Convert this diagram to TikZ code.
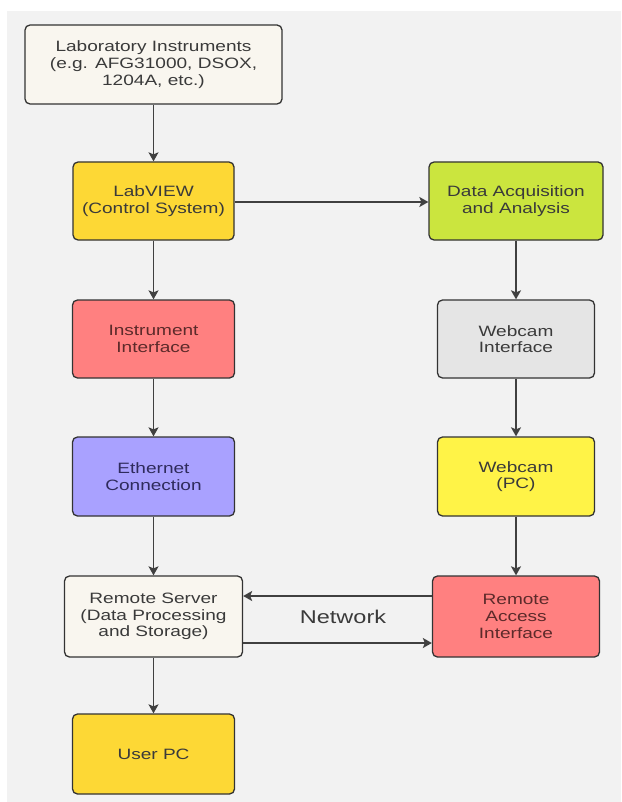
\documentclass[tikz,border=0pt]{standalone}
\usepackage{fontspec}
\setmainfont{Liberation Sans}
\newfontfamily\boxfont[FakeStretch=1.27]{Liberation Sans}
\usetikzlibrary{arrows.meta}
\definecolor{bgc}{HTML}{F2F2F2}
\definecolor{edge}{HTML}{333333}
\definecolor{linec}{HTML}{404040}
\definecolor{txt}{HTML}{3A3A3A}
\definecolor{redtxt}{HTML}{5C2A2A}
\definecolor{bluetxt}{HTML}{2F2B5C}
\definecolor{cream}{HTML}{F9F6EF}
\definecolor{gold}{HTML}{FDD835}
\definecolor{lime}{HTML}{CBE53E}
\definecolor{salmon}{HTML}{FF8080}
\definecolor{lgray}{HTML}{E5E5E5}
\definecolor{lav}{HTML}{A9A1FF}
\definecolor{yel}{HTML}{FFF347}
\tikzset{
  box/.style={draw=edge, line width=1.3pt, rounded corners=5pt, align=center,
    font=\boxfont\fontsize{15}{16.7}\selectfont, text=txt, inner sep=0pt},
  conn/.style={draw=linec, line width=1.6pt, -{Stealth[length=9pt,width=10pt,inset=2pt]}}
}
\begin{document}
\begin{tikzpicture}[x=1pt,y=-1pt]
\useasboundingbox (0,0) rectangle (621,802);
\fill[white] (0,0) rectangle (621,802);
\fill[bgc] (7,11) rectangle (621,802);

\node[box, fill=cream, minimum width=257, minimum height=79] (lab) at (153.5,64.5)
  {Laboratory Instruments\\(e.g. AFG31000, DSOX,\\1204A, etc.)};
\node[box, fill=gold, minimum width=161, minimum height=78] (lv) at (153.5,201)
  {LabVIEW\\(Control System)};
\node[box, fill=lime, minimum width=174, minimum height=78] (daq) at (516,201)
  {Data Acquisition\\and Analysis};
\node[box, fill=salmon, text=redtxt, minimum width=162, minimum height=78] (ii) at (153.5,339)
  {Instrument\\Interface};
\node[box, fill=lgray, minimum width=157, minimum height=78] (wi) at (516,339)
  {Webcam\\Interface};
\node[box, fill=lav, text=bluetxt, minimum width=162, minimum height=79] (eth) at (153.5,476.5)
  {Ethernet\\Connection};
\node[box, fill=yel, minimum width=157, minimum height=79] (wpc) at (516,476.5)
  {Webcam\\(PC)};
\node[box, fill=cream, minimum width=178, minimum height=81] (rs) at (153.5,616.5)
  {Remote Server\\(Data Processing\\and Storage)};
\node[box, fill=salmon, text=redtxt, minimum width=167, minimum height=81] (ra) at (516,616.5)
  {Remote\\Access\\Interface};
\node[box, fill=gold, minimum width=162, minimum height=80] (pc) at (153.5,754)
  {User PC};

\node[font=\boxfont\fontsize{18.5}{20}\selectfont, text=txt] (net) at (343,617) {Network};

\draw[conn] (lab) -- (lv);
\draw[conn] (lv) -- (ii);
\draw[conn] (ii) -- (eth);
\draw[conn] (eth) -- (rs);
\draw[conn] (rs) -- (pc);
\draw[conn] (daq) -- (wi);
\draw[conn] (wi) -- (wpc);
\draw[conn] (wpc) -- (ra);
\draw[conn] (lv.east |- 0,202) -- (daq.west |- 0,202);
\draw[conn] (ra.west |- 0,596) -- (rs.east |- 0,596);
\draw[conn] (rs.east |- 0,643) -- (ra.west |- 0,643);
\end{tikzpicture}
\end{document}
